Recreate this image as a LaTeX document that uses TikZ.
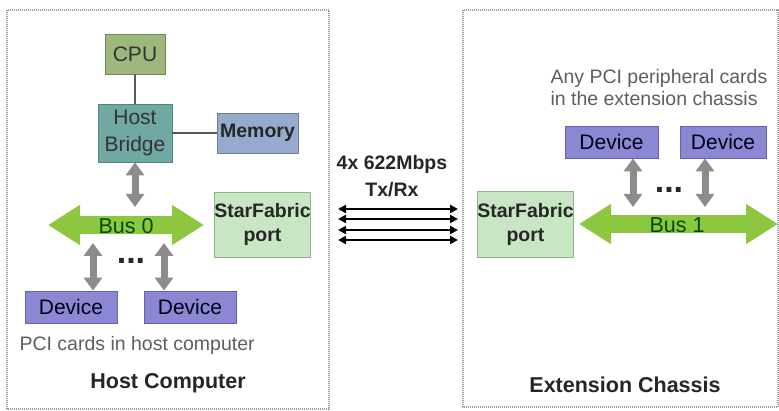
\documentclass[tikz,border=0pt]{standalone}
\usepackage{fontspec}
\setmainfont{Liberation Sans}
\usetikzlibrary{arrows.meta}
\definecolor{cpuc}{HTML}{9DB77D}
\definecolor{cpub}{HTML}{6E8A52}
\definecolor{hbc}{HTML}{70A8A4}
\definecolor{hbb}{HTML}{4E8682}
\definecolor{memc}{HTML}{96AACD}
\definecolor{memb}{HTML}{6A7FA3}
\definecolor{sfc}{HTML}{C8E6C3}
\definecolor{sfb}{HTML}{8DB886}
\definecolor{devc}{HTML}{8C87D2}
\definecolor{devb}{HTML}{6560B2}
\definecolor{busc}{HTML}{8DC63F}
\definecolor{arrc}{HTML}{8C8C8C}
\definecolor{txtc}{HTML}{333333}
\definecolor{greyt}{HTML}{5E5E5E}
\tikzset{
  reg/.style={font=\fontsize{19.5}{26}\selectfont},
  boxx/.style={draw, line width=0.8pt, inner sep=0pt, align=center, font=\fontsize{21}{27}\selectfont, text=txtc},
  cpubox/.style={boxx, fill=cpuc, draw=cpub},
  hbbox/.style={boxx, fill=hbc, draw=hbb},
  membox/.style={boxx, fill=memc, draw=memb, font=\bfseries\fontsize{19.5}{26}\selectfont, text=black!85},
  sfbox/.style={boxx, fill=sfc, draw=sfb, font=\bfseries\fontsize{19.5}{24}\selectfont, text=black!85},
  devbox/.style={boxx, fill=devc, draw=devb, text=black!75!blue!40!black},
  frame/.style={draw=gray!80, line width=1.2pt, dash pattern=on 1pt off 1pt},
  link/.style={draw=gray!70!black, line width=2.5pt},
  garrow/.style={draw=arrc, line width=7pt, {Triangle[width=18pt,length=13pt]}-{Triangle[width=18pt,length=13pt]}},
  busarrow/.style={draw=busc, line width=18pt, {Triangle[width=38pt,length=32pt]}-{Triangle[width=38pt,length=32pt]}},
  lanearrow/.style={draw=black, line width=2pt, {Triangle[width=8pt,length=8pt]}-{Triangle[width=8pt,length=8pt]}},
  title/.style={font=\bfseries\fontsize{21.5}{26}\selectfont, text=black!85},
  note/.style={reg, text=greyt, align=left},
  dots/.style={font=\bfseries\fontsize{34}{36}\selectfont, text=black!85, anchor=base, inner sep=0pt},
  bustext/.style={font=\fontsize{21.5}{26}\selectfont, text=green!30!black}
}
\begin{document}
\begin{tikzpicture}[x=1pt, y=-1pt]
\useasboundingbox (0,0) rectangle (779,411);
% frames
\draw[frame] (7,10) rectangle (329,409);
\draw[frame] (463,10) rectangle (778,407);

% host side
\node[cpubox, minimum width=60pt, minimum height=40pt] (cpu) at (135,54) {CPU};
\node[hbbox, minimum width=74pt, minimum height=58pt] (hb) at (135,133) {Host\\Bridge};
\node[membox, minimum width=81pt, minimum height=40pt] (mem) at (257.5,133) {Memory};
\node[sfbox, minimum width=89pt, minimum height=65pt] (sfl) at (262.5,224.5) {StarFabric\\port};
\node[devbox, minimum width=92pt, minimum height=32pt] (dl1) at (71,307) {Device};
\node[devbox, minimum width=92pt, minimum height=32pt] (dl2) at (190,307) {Device};

\draw[link] (cpu.south) -- (hb.north);
\draw[link] (hb.east) -- (mem.west);

\coordinate (b0l) at (48,225);
\coordinate (b0r) at (204,225);
\draw[busarrow] (b0l) -- (b0r);
\node[bustext] (b0) at (126,226) {Bus 0};

\coordinate (b0top) at (135,207);
\coordinate (b0d1) at (93,243);
\coordinate (b0d2) at (164,243);
\draw[garrow] (hb.south) -- (b0top);
\draw[garrow] (b0d1) -- (b0d1 |- dl1.north);
\draw[garrow] (b0d2) -- (b0d2 |- dl2.north);
\node[dots] (dotl) at (131,264) {...};

\node[note, anchor=west] (pcil) at (16,345) {PCI cards in host computer};
\node[title] (hostt) at (168,383) {Host Computer};

% middle lanes
\node[font=\bfseries\fontsize{19.5}{27}\selectfont, align=center, text=black!85] (rate) at (392,176.5) {4x 622Mbps\\Tx/Rx};
\foreach \yy [count=\i] in {209,219,230,240} {
  \coordinate (ll\i) at (338,\yy);
  \coordinate (lr\i) at (458,\yy);
  \draw[lanearrow] (ll\i) -- (lr\i);
}

% extension side
\node[sfbox, minimum width=89pt, minimum height=66pt] (sfr) at (525.5,224) {StarFabric\\port};
\node[devbox, minimum width=93pt, minimum height=32pt] (dr1) at (611.5,142) {Device};
\node[devbox, minimum width=86pt, minimum height=32pt] (dr2) at (723,142) {Device};

\coordinate (b1l) at (579,224);
\coordinate (b1r) at (778,224);
\draw[busarrow] (b1l) -- (b1r);
\node[bustext] (b1) at (677,225) {Bus 1};

\coordinate (b1d1) at (633,207);
\coordinate (b1d2) at (705,207);
\draw[garrow] (b1d1 |- dr1.south) -- (b1d1);
\draw[garrow] (b1d2 |- dr2.south) -- (b1d2);
\node[dots] (dotr) at (669,193) {...};

\node[note, anchor=west, font=\fontsize{19.5}{22}\selectfont] (pcir) at (547,88) {Any PCI peripheral cards\\in the extension chassis};
\node[title] (extt) at (625,385) {Extension Chassis};
\end{tikzpicture}
\end{document}
